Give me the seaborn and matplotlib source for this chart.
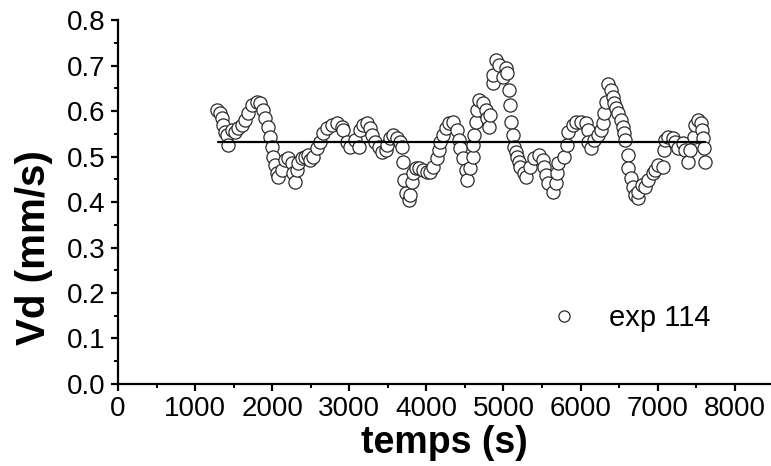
import matplotlib
matplotlib.use("Agg")
import matplotlib.pyplot as plt
from matplotlib.ticker import MultipleLocator
import seaborn as sns
import pandas as pd

# ---- data ----
temps = [
    1290, 1320, 1350, 1360, 1390, 1420, 1430, 1480, 1520, 1560,
    1610, 1650, 1690, 1740, 1800, 1840, 1880, 1910, 1940, 1970,
    2000, 2010, 2040, 2060, 2080, 2130, 2170, 2210, 2260, 2270,
    2300, 2320, 2340, 2390, 2430, 2470, 2490, 2530, 2580, 2620,
    2660, 2710, 2780, 2840, 2910, 2920, 2970, 3010, 3080, 3120,
    3140, 3180, 3230, 3270, 3300, 3340, 3380, 3430, 3470, 3490,
    3530, 3570, 3620, 3660, 3690, 3700, 3710, 3730, 3770, 3790,
    3820, 3830, 3860, 3900, 3960, 4010, 4050, 4090, 4140, 4160,
    4180, 4210, 4250, 4290, 4350, 4400, 4420, 4440, 4470, 4510,
    4530, 4570, 4600, 4610, 4620, 4640, 4660, 4680, 4730, 4770,
    4790, 4810, 4830, 4860, 4870, 4900, 4940, 4990, 5030, 5050,
    5070, 5090, 5100, 5120, 5140, 5160, 5180, 5200, 5220, 5260,
    5290, 5350, 5390, 5460, 5510, 5520, 5550, 5580, 5640, 5680,
    5700, 5710, 5780, 5830, 5840, 5900, 5940, 6000, 6070, 6090,
    6100, 6130, 6170, 6220, 6260, 6290, 6300, 6330, 6350, 6390,
    6420, 6430, 6460, 6490, 6520, 6550, 6560, 6580, 6610, 6620,
    6650, 6680, 6710, 6740, 6750, 6800, 6840, 6880, 6940, 6970,
    7010, 7070, 7080, 7100, 7140, 7200, 7230, 7270, 7330, 7360,
    7390, 7420, 7470, 7490, 7520, 7560, 7580, 7590, 7600, 7620,
]
vd = [
    0.602, 0.596, 0.585, 0.569, 0.554, 0.547, 0.525, 0.558, 0.554, 0.563,
    0.569, 0.580, 0.596, 0.613, 0.620, 0.617, 0.602, 0.585, 0.565, 0.543,
    0.521, 0.499, 0.481, 0.464, 0.455, 0.470, 0.492, 0.497, 0.486, 0.464,
    0.444, 0.470, 0.486, 0.497, 0.499, 0.503, 0.492, 0.499, 0.519, 0.532,
    0.552, 0.563, 0.569, 0.574, 0.565, 0.558, 0.532, 0.521, 0.536, 0.521,
    0.558, 0.569, 0.574, 0.563, 0.547, 0.532, 0.521, 0.510, 0.514, 0.525,
    0.541, 0.547, 0.541, 0.532, 0.521, 0.488, 0.448, 0.420, 0.404, 0.415,
    0.444, 0.464, 0.475, 0.475, 0.470, 0.466, 0.466, 0.477, 0.497, 0.514,
    0.532, 0.547, 0.563, 0.574, 0.576, 0.558, 0.536, 0.519, 0.497, 0.470,
    0.448, 0.475, 0.499, 0.525, 0.547, 0.576, 0.602, 0.624, 0.617, 0.602,
    0.585, 0.565, 0.591, 0.662, 0.679, 0.712, 0.701, 0.675, 0.695, 0.684,
    0.646, 0.613, 0.576, 0.547, 0.521, 0.510, 0.499, 0.488, 0.477, 0.464,
    0.455, 0.477, 0.497, 0.503, 0.492, 0.477, 0.459, 0.442, 0.422, 0.442,
    0.464, 0.486, 0.499, 0.525, 0.554, 0.569, 0.576, 0.576, 0.574, 0.558,
    0.532, 0.519, 0.536, 0.547, 0.558, 0.574, 0.596, 0.620, 0.660, 0.646,
    0.631, 0.617, 0.607, 0.596, 0.580, 0.565, 0.552, 0.536, 0.503, 0.475,
    0.453, 0.433, 0.415, 0.409, 0.422, 0.437, 0.433, 0.448, 0.464, 0.470,
    0.481, 0.477, 0.514, 0.536, 0.543, 0.541, 0.532, 0.519, 0.530, 0.514,
    0.488, 0.514, 0.543, 0.569, 0.580, 0.574, 0.558, 0.541, 0.519, 0.488,
]
mean_t = [1300, 7620]
mean_vd = [0.532, 0.532]
series_label = "exp 114"
xlabel = "temps (s)"
ylabel = "Vd (mm/s)"

df = pd.DataFrame({"temps": temps, "vd": vd})
df_mean = pd.DataFrame({"temps": mean_t, "vd": mean_vd})

sns.set_style("ticks")
plt.rcParams["font.family"] = ["Liberation Sans", "DejaVu Sans"]
plt.rcParams["text.color"] = "black"
plt.rcParams["axes.labelcolor"] = "black"

fig = plt.figure(figsize=(7.71, 4.66), dpi=100)
ax = fig.add_axes([0.153, 0.176, 0.847, 0.781])

sns.scatterplot(data=df, x="temps", y="vd", ax=ax, s=90, marker="o",
                facecolor="white", edgecolor="#2a2a2a", linewidth=0.9,
                label=series_label, zorder=2)
sns.lineplot(data=df_mean, x="temps", y="vd", ax=ax, color="black",
             linewidth=1.6, zorder=3, legend=False)

ax.set_xlim(0, 8470)
ax.set_ylim(0, 0.8)
ax.xaxis.set_major_locator(MultipleLocator(1000))
ax.xaxis.set_minor_locator(MultipleLocator(500))
ax.yaxis.set_major_locator(MultipleLocator(0.1))
ax.yaxis.set_minor_locator(MultipleLocator(0.05))
ax.set_yticks([i / 10 for i in range(9)])
ax.set_yticklabels([f"{i/10:.1f}" for i in range(9)])

for side in ["top", "right"]:
    ax.spines[side].set_visible(False)
for side in ["left", "bottom"]:
    ax.spines[side].set_linewidth(1.6)
    ax.spines[side].set_color("black")

ax.tick_params(which="major", direction="out", length=5, width=1.6,
               labelsize=20, colors="black", labelcolor="black", pad=4)
ax.tick_params(which="minor", direction="out", length=3, width=1.4,
               colors="black")

ax.set_xlabel(xlabel, fontsize=27, fontweight="bold", labelpad=2,
              color="black")
ax.set_ylabel(ylabel, fontsize=29, fontweight="bold", color="black")
ax.yaxis.set_label_coords(-0.100, 0.374)

leg = ax.legend(loc="center left", bbox_to_anchor=(0.662, 0.181),
                frameon=False, fontsize=21, handlelength=0.95,
                handletextpad=1.05, borderpad=0, borderaxespad=0,
                scatteryoffsets=[0.5], markerscale=0.85)
for txt in leg.get_texts():
    txt.set_color("black")

fig.savefig("out.png", dpi=100)
